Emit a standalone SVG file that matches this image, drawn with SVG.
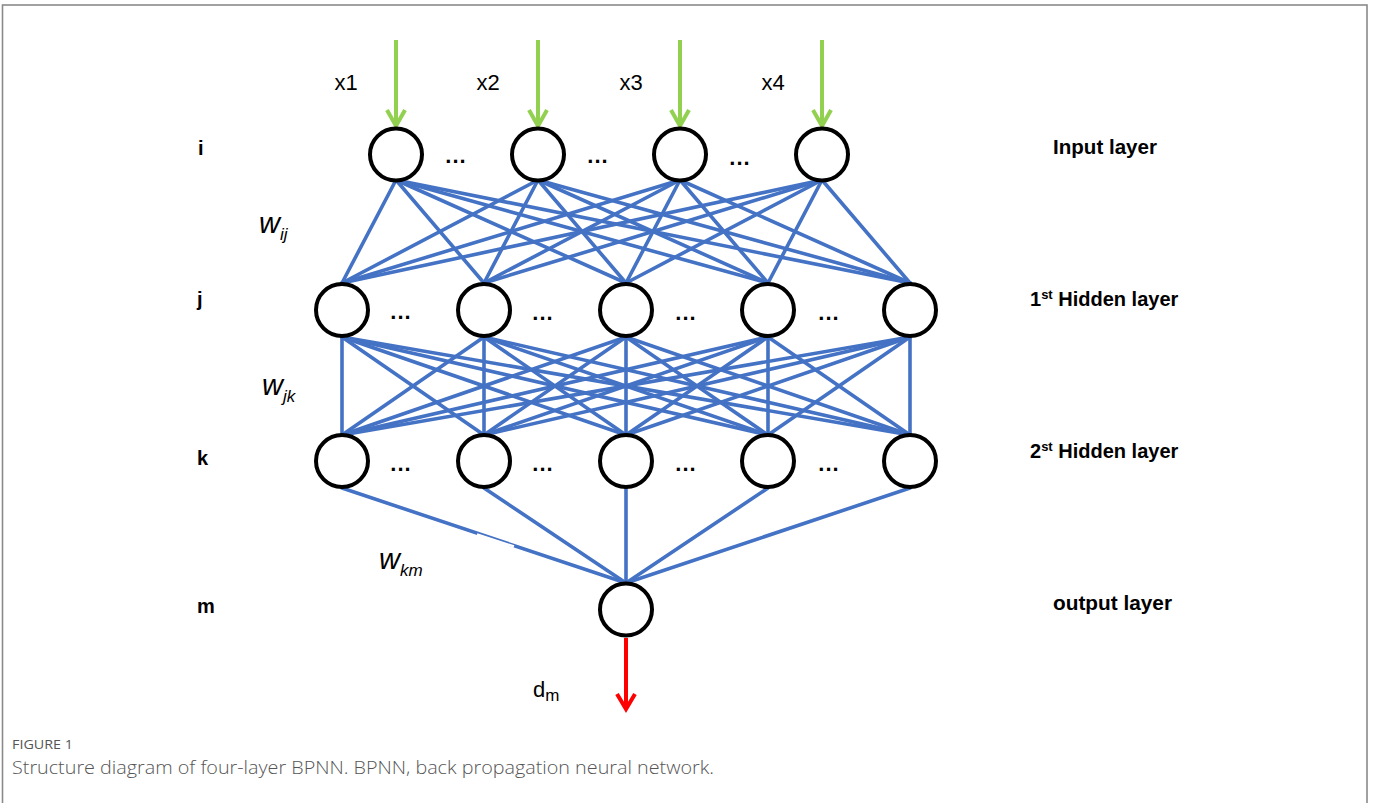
<svg xmlns="http://www.w3.org/2000/svg" width="1375" height="803" viewBox="0 0 1375 803">
<style>
.frame{fill:#ffffff;stroke:#8a8a8a;stroke-width:1.6}
.e{stroke:#4472C4;stroke-width:3.6;stroke-linecap:round;fill:none}
.n{fill:#ffffff;stroke:#000000;stroke-width:4}
.g{stroke:#92D050;stroke-width:4;fill:none}
.r{stroke:#FF0000;stroke-width:4;fill:none}
.lbl{font-family:"Liberation Sans",Arial,sans-serif;font-size:22px;fill:#000}
.b{font-family:"Liberation Sans",Arial,sans-serif;font-weight:bold;font-size:20px;fill:#000}
.dots{font-family:"Liberation Sans",Arial,sans-serif;font-weight:bold;font-size:22px;fill:#000;letter-spacing:1px}
.w{font-family:"Liberation Sans",Arial,sans-serif;font-style:italic;fill:#000}
.cap1{font-family:"Open Sans",Lato,sans-serif;font-size:13px;fill:#555}
.cap2{font-family:"Open Sans",Lato,sans-serif;font-weight:300;font-size:17.5px;fill:#555}
</style>
<rect x="0" y="0" width="1375" height="803" fill="#ffffff"/>
<rect class="frame" x="2.5" y="5" width="1364.5" height="830"/>

<g id="connectors">
  <g id="edges-input-hidden1">
    <line class="e" x1="396" y1="180" x2="342" y2="283"/>
    <line class="e" x1="396" y1="180" x2="484" y2="283"/>
    <line class="e" x1="396" y1="180" x2="626" y2="283"/>
    <line class="e" x1="396" y1="180" x2="768" y2="283"/>
    <line class="e" x1="396" y1="180" x2="910" y2="283"/>
    <line class="e" x1="538" y1="180" x2="342" y2="283"/>
    <line class="e" x1="538" y1="180" x2="484" y2="283"/>
    <line class="e" x1="538" y1="180" x2="626" y2="283"/>
    <line class="e" x1="538" y1="180" x2="768" y2="283"/>
    <line class="e" x1="538" y1="180" x2="910" y2="283"/>
    <line class="e" x1="680" y1="180" x2="342" y2="283"/>
    <line class="e" x1="680" y1="180" x2="484" y2="283"/>
    <line class="e" x1="680" y1="180" x2="626" y2="283"/>
    <line class="e" x1="680" y1="180" x2="768" y2="283"/>
    <line class="e" x1="680" y1="180" x2="910" y2="283"/>
    <line class="e" x1="822" y1="180" x2="342" y2="283"/>
    <line class="e" x1="822" y1="180" x2="484" y2="283"/>
    <line class="e" x1="822" y1="180" x2="626" y2="283"/>
    <line class="e" x1="822" y1="180" x2="768" y2="283"/>
    <line class="e" x1="822" y1="180" x2="910" y2="283"/>
  </g>
  <g id="edges-hidden1-hidden2">
    <line class="e" x1="342" y1="337" x2="342" y2="435"/>
    <line class="e" x1="342" y1="337" x2="484" y2="435"/>
    <line class="e" x1="342" y1="337" x2="626" y2="435"/>
    <line class="e" x1="342" y1="337" x2="768" y2="435"/>
    <line class="e" x1="342" y1="337" x2="910" y2="435"/>
    <line class="e" x1="484" y1="337" x2="342" y2="435"/>
    <line class="e" x1="484" y1="337" x2="484" y2="435"/>
    <line class="e" x1="484" y1="337" x2="626" y2="435"/>
    <line class="e" x1="484" y1="337" x2="768" y2="435"/>
    <line class="e" x1="484" y1="337" x2="910" y2="435"/>
    <line class="e" x1="626" y1="337" x2="342" y2="435"/>
    <line class="e" x1="626" y1="337" x2="484" y2="435"/>
    <line class="e" x1="626" y1="337" x2="626" y2="435"/>
    <line class="e" x1="626" y1="337" x2="768" y2="435"/>
    <line class="e" x1="626" y1="337" x2="910" y2="435"/>
    <line class="e" x1="768" y1="337" x2="342" y2="435"/>
    <line class="e" x1="768" y1="337" x2="484" y2="435"/>
    <line class="e" x1="768" y1="337" x2="626" y2="435"/>
    <line class="e" x1="768" y1="337" x2="768" y2="435"/>
    <line class="e" x1="768" y1="337" x2="910" y2="435"/>
    <line class="e" x1="910" y1="337" x2="342" y2="435"/>
    <line class="e" x1="910" y1="337" x2="484" y2="435"/>
    <line class="e" x1="910" y1="337" x2="626" y2="435"/>
    <line class="e" x1="910" y1="337" x2="768" y2="435"/>
    <line class="e" x1="910" y1="337" x2="910" y2="435"/>
  </g>
  <g id="edges-hidden2-output">
    <line class="e" x1="342" y1="488" x2="626" y2="583"/>
    <line class="e" x1="484" y1="488" x2="626" y2="583"/>
    <line class="e" x1="626" y1="488" x2="626" y2="583"/>
    <line class="e" x1="768" y1="488" x2="626" y2="583"/>
    <line class="e" x1="910" y1="488" x2="626" y2="583"/>
    <line x1="477" y1="534.5" x2="514" y2="546.5" stroke="#ffffff" stroke-width="2.4"/>
  </g>
  <g id="input-arrows">
    <line class="g" x1="396" y1="40" x2="396" y2="126"/>
    <polyline class="g" points="387,110 396,126 405,110"/>
    <line class="g" x1="538" y1="40" x2="538" y2="126"/>
    <polyline class="g" points="529,110 538,126 547,110"/>
    <line class="g" x1="680" y1="40" x2="680" y2="126"/>
    <polyline class="g" points="671,110 680,126 689,110"/>
    <line class="g" x1="822" y1="40" x2="822" y2="126"/>
    <polyline class="g" points="813,110 822,126 831,110"/>
  </g>
  <g id="output-arrow">
    <line class="r" x1="626" y1="638" x2="626" y2="709"/>
    <polyline class="r" points="617,694 626,709 635,694"/>
  </g>
</g>

<g id="input-layer">
  <ellipse id="in1" class="n" cx="396" cy="154.5" rx="26" ry="26"/>
  <ellipse id="in2" class="n" cx="538" cy="154.5" rx="26" ry="26"/>
  <ellipse id="in3" class="n" cx="680" cy="154.5" rx="26" ry="26"/>
  <ellipse id="in4" class="n" cx="822" cy="154.5" rx="26" ry="26"/>
  <text class="dots" x="456" y="163" text-anchor="middle">...</text>
  <text class="dots" x="598" y="163" text-anchor="middle">...</text>
  <text class="dots" x="740" y="165" text-anchor="middle">...</text>
</g>
<g id="hidden-layer-1">
  <ellipse id="h1" class="n" cx="342" cy="310" rx="26" ry="26"/>
  <ellipse id="h2" class="n" cx="484" cy="310" rx="26" ry="26"/>
  <ellipse id="h3" class="n" cx="626" cy="310" rx="26" ry="26"/>
  <ellipse id="h4" class="n" cx="768" cy="310" rx="26" ry="26"/>
  <ellipse id="h5" class="n" cx="910" cy="310" rx="26" ry="26"/>
  <text class="dots" x="401" y="319" text-anchor="middle">...</text>
  <text class="dots" x="543" y="320" text-anchor="middle">...</text>
  <text class="dots" x="686" y="320" text-anchor="middle">...</text>
  <text class="dots" x="829" y="320" text-anchor="middle">...</text>
</g>
<g id="hidden-layer-2">
  <ellipse id="k1" class="n" cx="342" cy="461" rx="26" ry="26"/>
  <ellipse id="k2" class="n" cx="484" cy="461" rx="26" ry="26"/>
  <ellipse id="k3" class="n" cx="626" cy="461" rx="26" ry="26"/>
  <ellipse id="k4" class="n" cx="768" cy="461" rx="26" ry="26"/>
  <ellipse id="k5" class="n" cx="910" cy="461" rx="26" ry="26"/>
  <text class="dots" x="401" y="471" text-anchor="middle">...</text>
  <text class="dots" x="543" y="471" text-anchor="middle">...</text>
  <text class="dots" x="686" y="471" text-anchor="middle">...</text>
  <text class="dots" x="829" y="471" text-anchor="middle">...</text>
</g>
<g id="output-layer">
  <ellipse id="m1" class="n" cx="626" cy="609.5" rx="26" ry="26"/>
</g>

<g id="input-labels">
  <text class="lbl" x="346" y="90" text-anchor="middle">x1</text>
  <text class="lbl" x="488" y="90" text-anchor="middle">x2</text>
  <text class="lbl" x="631" y="90" text-anchor="middle">x3</text>
  <text class="lbl" x="773" y="90" text-anchor="middle">x4</text>
  <text class="lbl" x="533" y="697">d<tspan font-size="17" dy="4">m</tspan></text>
</g>

<g id="index-labels">
  <text class="b" x="198" y="155">i</text>
  <text class="b" x="197" y="306">j</text>
  <text class="b" x="197" y="465">k</text>
  <text class="b" x="197" y="613">m</text>
</g>

<g id="weight-labels">
  <text class="w" x="259" y="233" font-size="29">w<tspan font-size="17" dy="7">ij</tspan></text>
  <text class="w" x="262" y="395" font-size="29">w<tspan font-size="17" dy="7">jk</tspan></text>
  <text class="w" x="379" y="569" font-size="29">w<tspan font-size="17" dy="7">km</tspan></text>
</g>

<g id="layer-labels">
  <text class="b" x="1053" y="154" textLength="104" lengthAdjust="spacingAndGlyphs">Input layer</text>
  <text class="b" x="1030" y="306">1<tspan font-size="13" dy="-7">st</tspan><tspan dy="7"> Hidden layer</tspan></text>
  <text class="b" x="1030" y="458">2<tspan font-size="13" dy="-7">st</tspan><tspan dy="7"> Hidden layer</tspan></text>
  <text class="b" x="1053" y="610" textLength="119" lengthAdjust="spacingAndGlyphs">output layer</text>
</g>

<g id="caption">
  <text class="cap1" x="12" y="749" textLength="61" lengthAdjust="spacingAndGlyphs">FIGURE 1</text>
  <text class="cap2" x="12" y="774" textLength="702" lengthAdjust="spacingAndGlyphs">Structure diagram of four-layer BPNN. BPNN, back propagation neural network.</text>
</g>
</svg>
